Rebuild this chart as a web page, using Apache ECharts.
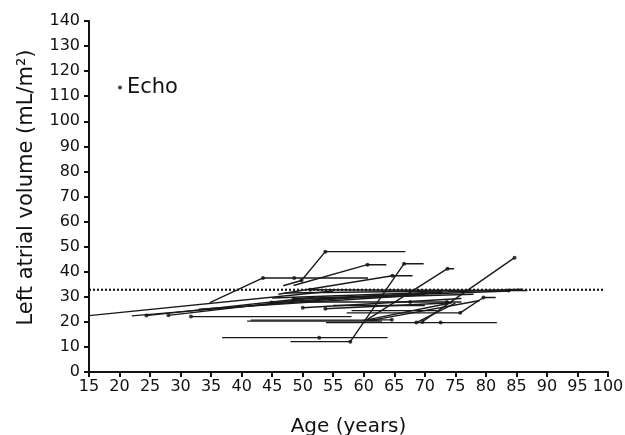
<!DOCTYPE html>
<html>
<head>
<meta charset="utf-8">
<script src="https://cdn.jsdelivr.net/npm/echarts@6/dist/echarts.min.js"></script>
<style>html,body{margin:0;padding:0;background:#fff;}#c{width:625px;height:435px;}</style>
</head>
<body>
<div id="c"></div>
<script>
const xTicks = [15,20,25,30,35,40,45,50,55,60,65,70,75,80,85,90,95,100];
const yTicks = [0,10,20,30,40,50,60,70,80,90,100,110,120,130,140];
const referenceLevel = 32.8;
const referenceRange = [15, 99.5];

// patient trajectories: [age, LA volume] points
const trajectories = [
  [[15,22.5],[55,32.3]],
  [[22,22.4],[62,30.5]],
  [[24.4,22.5],[52,29.8]],
  [[28,22.6],[50,28.8]],
  [[33,25],[70,30.8]],
  [[44.9,27.7],[72.5,31.7]],
  [[45,29.5],[86,33]],
  [[48.5,29.2],[84,32.3]],
  [[51.2,32.8],[83.7,32.5],[86.8,32.5]],
  [[50,25.6],[76,29.3]],
  [[53.7,25.2],[74.5,27.6]],
  [[48.8,29],[78,31]],
  [[47,31.5],[73,32.3]],
  [[31.7,22.1],[58,22.1]],
  [[40.9,20.3],[63,20.3]],
  [[41.5,20.7],[62.5,20.7]],
  [[36.8,13.7],[63.9,13.7]],
  [[48,12.1],[57.8,12.1],[66.6,43.2],[69.8,43.2]],
  [[46.8,34.4],[49.8,36.5],[53.7,48],[66.8,48]],
  [[34.8,27.7],[43.5,37.5],[60.7,37.5]],
  [[48.5,34.5],[60.6,42.8],[63.7,42.8]],
  [[46,31],[64.7,38.4],[68,38.4]],
  [[60.5,20.8],[73.7,41.2],[74.8,41.2]],
  [[69.6,20.1],[84.7,45.6]],
  [[53.8,19.7],[81.8,19.7]],
  [[57.2,23.6],[75.8,23.6],[79.6,29.7],[81.6,29.7]],
  [[50,27.9],[76,27.9]],
  [[55,26.5],[70,26.5]],
  [[58,24.5],[72,24.5]],
  [[61,20.5],[79,28.5]],
  [[68.6,19.7],[75,27.5]],
  [[60,20.8],[64.6,20.8]],
  [[60.5,20.8],[74.2,27.5]]
];

// echo measurement dots
const echoDots = [
  [31.7,22.1],[24.4,22.5],[28,22.6],[52.7,13.7],[57.8,12.1],[66.6,43.2],
  [53.7,48],[49.8,36.5],[43.5,37.5],[48.6,37.5],[60.6,42.8],[64.7,38.4],
  [73.7,41.2],[84.7,45.6],[79.6,29.7],[75.8,23.6],[67.6,27.9],[73.6,27.9],
  [64.6,20.8],[68.6,19.7],[69.6,19.9],[72.6,19.7],[83.7,32.5],[72.5,31.7],
  [44.9,27.7],[48.5,29.2],[51.2,32.8],[50,25.6],[53.7,25.2]
];

const font = 'DejaVu Sans, sans-serif';
const series = trajectories.map(t => ({
  type: 'line', data: t, symbol: 'none', silent: true,
  lineStyle: {color: '#1a1a1a', width: 1.4}, z: 3
}));
series.push({
  type: 'line', data: [[referenceRange[0], referenceLevel],[referenceRange[1], referenceLevel]],
  symbol: 'none', silent: true,
  lineStyle: {color: '#1a1a1a', width: 2.2, type: [2, 2]}, z: 2
});
series.push({
  name: 'Echo', type: 'scatter', data: echoDots, symbol: 'circle', symbolSize: 4,
  itemStyle: {color: '#111'}, z: 5
});

const chart = echarts.init(document.getElementById('c'));
chart.setOption({
  animation: false,
  backgroundColor: '#fff',
  grid: {left: 89, right: 17, top: 21, bottom: 63, containLabel: false, outerBoundsMode: 'none'},
  legend: {
    data: ['Echo'], left: 113, top: 72, icon: 'circle', itemWidth: 4, itemHeight: 4, itemGap: 11,
    textStyle: {fontSize: 21, color: '#111', fontFamily: font}
  },
  xAxis: {
    type: 'value', min: 15, max: 100, interval: 5,
    name: 'Age (years)', nameLocation: 'middle', nameGap: 45,
    nameTextStyle: {fontSize: 20, color: '#111', fontFamily: font},
    axisLine: {lineStyle: {color: '#111', width: 2}},
    axisTick: {show: true, length: 5, lineStyle: {color: '#111', width: 2}},
    axisLabel: {fontSize: 16, color: '#111', fontFamily: font, margin: 7,
      formatter: v => xTicks.includes(v) ? String(v) : ''},
    splitLine: {show: false}
  },
  yAxis: {
    type: 'value', min: 0, max: 140, interval: 10,
    name: 'Left atrial volume (mL/m²)', nameLocation: 'middle', nameGap: 52,
    nameTextStyle: {fontSize: 21, color: '#111', fontFamily: font, padding: [0, 0, 0, 18]},
    axisLine: {show: true, lineStyle: {color: '#111', width: 2}},
    axisTick: {show: true, length: 5, lineStyle: {color: '#111', width: 2}},
    axisLabel: {fontSize: 16, color: '#111', fontFamily: font, margin: 9,
      formatter: v => yTicks.includes(v) ? String(v) : ''},
    splitLine: {show: false}
  },
  series: series
});
</script>
</body>
</html>
